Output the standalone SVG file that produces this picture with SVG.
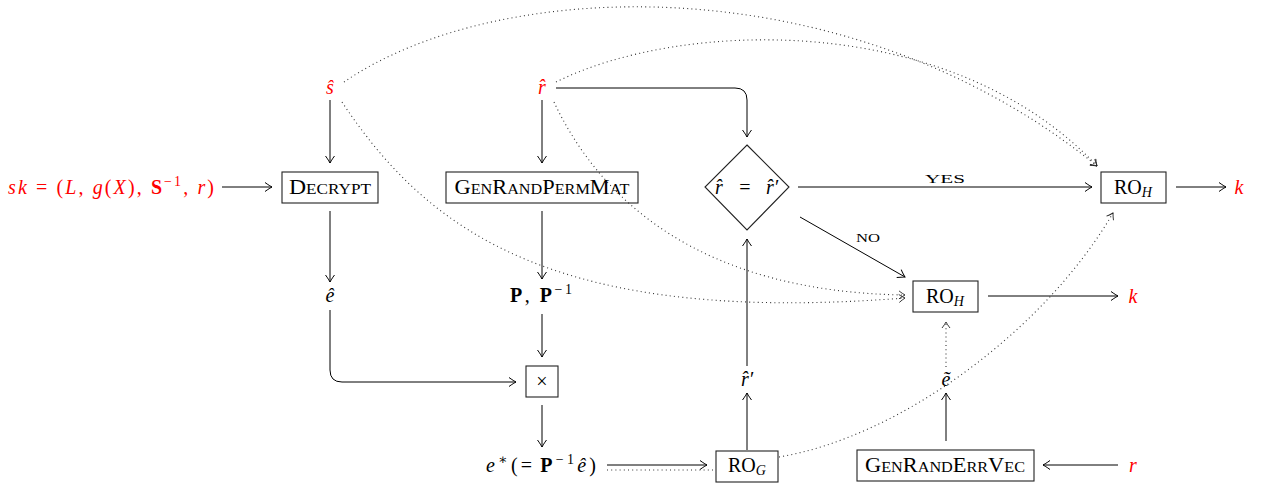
<svg xmlns="http://www.w3.org/2000/svg" width="1272" height="484" viewBox="0 0 1272 484">
<defs>
<style>
text{font-family:"Liberation Serif","DejaVu Serif",serif;fill:#000;}
.lbl{font-size:20px;text-anchor:middle;}
.red{fill:#ff0000;}
.it{font-style:italic;}
.bf{font-weight:bold;font-style:normal;}
.sc{font-size:14.5px;}
.yn{font-size:13px;text-anchor:middle;}
.sup{font-size:14px;}
.box{fill:none;stroke:#222;stroke-width:1.1;}
.ln{fill:none;stroke:#000;stroke-width:1;}
.dot{fill:none;stroke:#333;stroke-width:1.1;stroke-dasharray:1 3.2;}
</style>
<marker id="ah" markerUnits="userSpaceOnUse" markerWidth="14" markerHeight="14" viewBox="-8 -7 10 14" refX="0" refY="0" orient="auto">
<path d="M -7 -4.5 C -4 -2.2 -1.2 -0.7 0 0 C -1.2 0.7 -4 2.2 -7 4.5" fill="none" stroke="#000" stroke-width="1"/>
</marker>
<marker id="ahd" markerUnits="userSpaceOnUse" markerWidth="14" markerHeight="14" viewBox="-8 -7 10 14" refX="0" refY="0" orient="auto">
<path d="M -6 -4 C -3.5 -2 -1 -0.6 0 0 C -1 0.6 -3.5 2 -6 4" fill="none" stroke="#222" stroke-width="0.9"/>
</marker>
</defs>
<rect width="1272" height="484" fill="#fff"/>

<g id="connectors">
<path class="ln" d="M 222 187 L 272 187" marker-end="url(#ah)"/>
<path class="ln" d="M 330 100 L 330 163" marker-end="url(#ah)"/>
<path class="ln" d="M 330 211 L 330 282" marker-end="url(#ah)"/>
<path class="ln" d="M 330 310 L 330 370 Q 330 382 342 382 L 516 382" marker-end="url(#ah)"/>
<path class="ln" d="M 542 100 L 542 163" marker-end="url(#ah)"/>
<path class="ln" d="M 556 88 L 735 88 Q 747 88 747 100 L 747 137" marker-end="url(#ah)"/>
<path class="ln" d="M 542 211 L 542 279" marker-end="url(#ah)"/>
<path class="ln" d="M 542 314 L 542 357" marker-end="url(#ah)"/>
<path class="ln" d="M 542 405 L 542 447" marker-end="url(#ah)"/>
<path class="ln" d="M 607 465 L 707 465" marker-end="url(#ah)"/>
<path class="ln" d="M 747 450 L 747 393" marker-end="url(#ah)"/>
<path class="ln" d="M 747 366 L 747 239" marker-end="url(#ah)"/>
<path class="ln" d="M 798 187 L 1092 187" marker-end="url(#ah)"/>
<path class="ln" d="M 800 217 L 905 277" marker-end="url(#ah)"/>
<path class="ln" d="M 1176 187 L 1226 187" marker-end="url(#ah)"/>
<path class="ln" d="M 988 296 L 1118 296" marker-end="url(#ah)"/>
<path class="ln" d="M 946 441 L 946 393" marker-end="url(#ah)"/>
<path class="ln" d="M 1118 465 L 1043 465" marker-end="url(#ah)"/>
<path class="dot" d="M 946 367 L 946 322" marker-end="url(#ahd)"/>
<path class="dot" d="M 607 470 L 716 470"/>
<path class="dot" d="M 779 457 C 900 437 1045 330 1113 213" marker-end="url(#ahd)"/>
<path class="dot" d="M 344 82 C 500 -25 850 -35 1097 166" marker-end="url(#ahd)"/>
<path class="dot" d="M 556 82 C 680 20 950 10 1097 166" marker-end="url(#ahd)"/>
<path class="dot" d="M 342 102 C 430 235 560 325 905 298" marker-end="url(#ahd)"/>
<path class="dot" d="M 554 102 C 600 200 700 292 905 295" marker-end="url(#ahd)"/>
<text class="yn" x="945" y="183" textLength="40" lengthAdjust="spacingAndGlyphs">YES</text>
<text class="yn" x="868" y="242" textLength="24" lengthAdjust="spacingAndGlyphs">NO</text>
</g>

<g id="sk">
<text class="lbl red" x="111" y="194" textLength="206" lengthAdjust="spacing"><tspan class="it">sk</tspan> = (<tspan class="it">L</tspan>, <tspan class="it">g</tspan>(<tspan class="it">X</tspan>), <tspan class="bf">S</tspan><tspan class="sup" dy="-8">−1</tspan><tspan dy="8">, </tspan><tspan class="it">r</tspan>)</text>
</g>
<g id="decrypt">
<rect class="box" x="282" y="172" width="96" height="31"/>
<text class="lbl" x="330" y="194" textLength="82" lengthAdjust="spacingAndGlyphs">D<tspan class="sc">ECRYPT</tspan></text>
</g>
<g id="s-hat"><text class="lbl red it" x="330" y="94">ŝ</text></g>
<g id="r-hat"><text class="lbl red it" x="542" y="94">r̂</text></g>
<g id="genrandpermmat">
<rect class="box" x="446" y="172" width="192" height="31"/>
<text class="lbl" x="542" y="194" textLength="175" lengthAdjust="spacingAndGlyphs">G<tspan class="sc">EN</tspan>R<tspan class="sc">AND</tspan>P<tspan class="sc">ERM</tspan>M<tspan class="sc">AT</tspan></text>
</g>
<g id="e-hat"><text class="lbl it" x="330" y="302">ê</text></g>
<g id="p-pinv"><text class="lbl" x="541" y="302" textLength="62" lengthAdjust="spacing"><tspan class="bf">P</tspan>, <tspan class="bf">P</tspan><tspan class="sup" dy="-8">−1</tspan></text></g>
<g id="times">
<rect class="box" x="526" y="366" width="32" height="31"/>
<text class="lbl" x="542" y="388">×</text>
</g>
<g id="e-star"><text class="lbl" x="541" y="472" textLength="110" lengthAdjust="spacing"><tspan class="it">e</tspan><tspan class="sup" dy="-8">∗</tspan><tspan dy="8">(=</tspan><tspan class="bf" dx="5">P</tspan><tspan class="sup" dy="-8">−1</tspan><tspan class="it" dy="8">ê</tspan>)</text></g>
<g id="ro-g">
<rect class="box" x="716" y="451" width="62" height="31"/>
<text class="lbl" x="747" y="472">RO<tspan class="it sup" dy="3">G</tspan></text>
</g>
<g id="r-hat-prime"><text class="lbl it" x="747" y="386">r̂′</text></g>
<g id="compare">
<path class="box" d="M 747 145 L 789 187 L 747 230 L 705 187 Z"/>
<text class="lbl it" x="719" y="194">r̂</text>
<text class="lbl" x="745" y="194">=</text>
<text class="lbl it" x="772" y="194">r̂′</text>
</g>
<g id="ro-h-top">
<rect class="box" x="1101" y="172" width="65" height="31"/>
<text class="lbl" x="1133" y="194">RO<tspan class="it sup" dy="3">H</tspan></text>
</g>
<g id="k-top"><text class="lbl red it" x="1239" y="194">k</text></g>
<g id="ro-h-mid">
<rect class="box" x="913" y="281" width="65" height="31"/>
<text class="lbl" x="945" y="303">RO<tspan class="it sup" dy="3">H</tspan></text>
</g>
<g id="k-mid"><text class="lbl red it" x="1133" y="303">k</text></g>
<g id="e-tilde"><text class="lbl it" x="946" y="386">ẽ</text></g>
<g id="genranderrvec">
<rect class="box" x="857" y="450" width="177" height="31"/>
<text class="lbl" x="945" y="472" textLength="160" lengthAdjust="spacingAndGlyphs">G<tspan class="sc">EN</tspan>R<tspan class="sc">AND</tspan>E<tspan class="sc">RR</tspan>V<tspan class="sc">EC</tspan></text>
</g>
<g id="r-in"><text class="lbl red it" x="1133" y="472">r</text></g>
</svg>
